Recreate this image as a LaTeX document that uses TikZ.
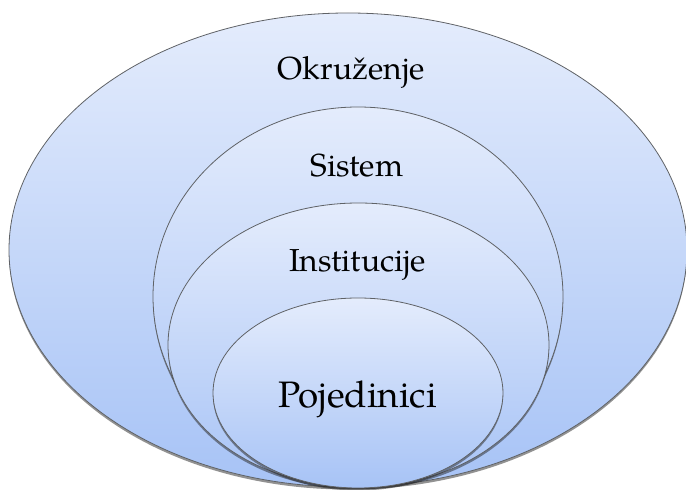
\documentclass[tikz,border=0pt]{standalone}
\usepackage{fontspec}
\setmainfont{TeX Gyre Pagella}
\usetikzlibrary{shapes.geometric,shadows}
\definecolor{ringtop}{HTML}{E4ECFC}
\definecolor{ringbot}{HTML}{A7C3F6}
\definecolor{ringline}{HTML}{5F6266}
\tikzset{
  ring/.style={ellipse, draw=ringline, line width=0.8pt, inner sep=0pt,
    top color=ringtop, bottom color=ringbot,
    drop shadow={shadow xshift=0pt, shadow yshift=-2.5pt, opacity=0.5, fill=black!85}},
  lbl/.style={anchor=base, text=black, inner sep=0pt, font=\fontsize{31.8}{38}\selectfont},
  lblbig/.style={lbl, font=\fontsize{36.8}{44}\selectfont}
}
\begin{document}
\begin{tikzpicture}[x=1pt,y=1pt]
\useasboundingbox (0,0) rectangle (686,490);
\begin{scope}
\clip (0,0) rectangle (686,490);
\node[ring, minimum width=678pt, minimum height=474pt] (env) at (348,240) {};
\node[ring, minimum width=410pt, minimum height=379pt] (sys) at (358,193.5) {};
\node[ring, minimum width=381pt, minimum height=284pt] (inst) at (358.5,145) {};
\node[ring, minimum width=290pt, minimum height=190pt] (ind) at (358,97) {};
\end{scope}
\node[lbl] (tenv) at (351.5,410) {Okruženje};
\node[lbl] (tsys) at (357,313.3) {Sistem};
\node[lbl] (tinst) at (357.5,218.3) {Institucije};
\node[lblbig] (tind) at (357.5,82.5) {Pojedinici};
\end{tikzpicture}
\end{document}
